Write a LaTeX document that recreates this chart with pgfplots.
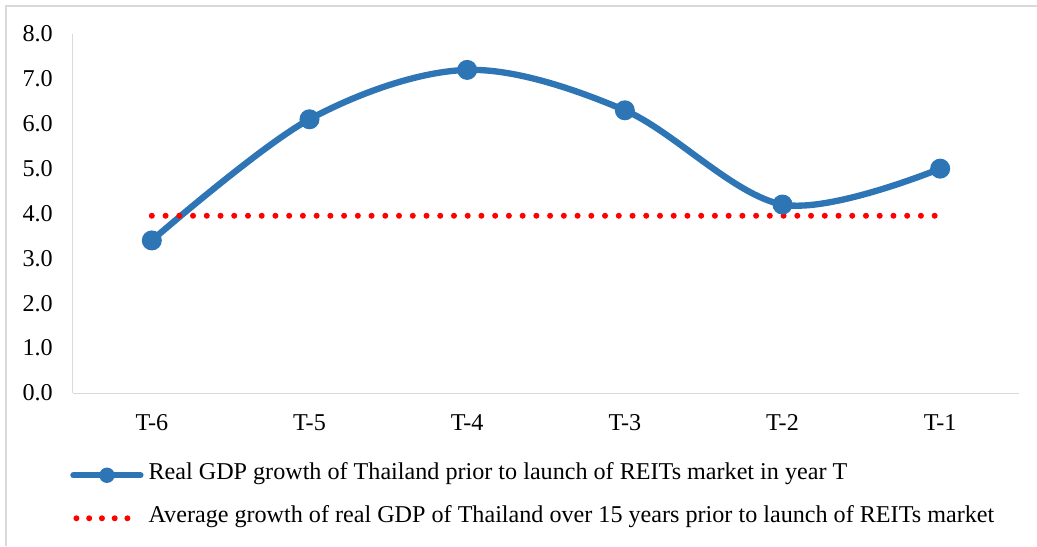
\documentclass[border=0pt]{standalone}
\usepackage{fontspec}
\setmainfont{Liberation Serif}
\usepackage{pgfplots}
\pgfplotsset{compat=1.18}
\definecolor{gdpblue}{HTML}{2E75B6}
\definecolor{axgray}{HTML}{D9D9D9}
\definecolor{avgred}{HTML}{FF0000}
\pgfplotsset{
  bluelegend/.style={legend image code/.code={
    \path[draw=none, fill=none] (0pt,-7.5pt) rectangle (54.75pt,7.5pt);
    \draw[##1, line cap=round, mark repeat=2, mark phase=2, mark size=5.25pt] plot coordinates {(2.25pt,0pt) (27.4pt,0pt) (52.5pt,0pt)};
  }},
  redlegend/.style={legend image code/.code={
    \path[draw=none, fill=none] (0pt,-7.5pt) rectangle (54.75pt,7.5pt);
    \draw[##1, dash pattern=on 0pt off 9.56pt] (4.5pt,0pt) -- (43pt,0pt);
  }},
}
\begin{document}
\begin{tikzpicture}[font=\fontsize{18.1}{21.5}\selectfont]
\useasboundingbox (-54.75pt,-114.75pt) rectangle (723pt,294.75pt);
\draw[axgray, line width=1.1pt] (-50.25pt,-114.75pt) -- (-50.25pt,290.25pt) -- (723pt,290.25pt);
\begin{axis}[
  at={(0,0)}, anchor=south west,
  scale only axis, width=709.5pt, height=269.25pt,
  xmin=-0.5, xmax=5.5, ymin=0, ymax=8,
  xtick={0,1,2,3,4,5}, xticklabels={T-6,T-5,T-4,T-3,T-2,T-1},
  ytick={0,1,2,3,4,5,6,7,8},
  axis x line*=bottom, axis y line*=left,
  axis line style={axgray, line width=0.75pt, -},
  major tick length=0pt,
  /pgf/number format/assume math mode=true,
  yticklabel style={/pgf/number format/fixed, /pgf/number format/fixed zerofill, /pgf/number format/precision=1, inner sep=0pt, xshift=-15pt, anchor=east},
  xticklabel style={inner sep=0pt, anchor=north, yshift=-16pt},
  legend style={at={(0,0)}, anchor=north west, xshift=-2.25pt, yshift=-54pt, draw=none, fill=none, inner sep=0pt, row sep=17.25pt, column sep=3.75pt,
    nodes={inner sep=0pt, text height=11pt, text depth=4pt, anchor=west}},
  legend cell align=left,
  clip=false,
]
\addplot[gdpblue, line width=4.75pt, smooth, tension=0.55, mark=*, mark size=7pt,
  mark options={solid, fill=gdpblue, draw=gdpblue, line width=1pt}, bluelegend] coordinates {
  (0,3.4) (1,6.1) (2,7.2) (3,6.3) (4,4.2) (5,5.0)
};
\addlegendentry{Real GDP growth of Thailand prior to launch of REITs market in year T}
\addplot[avgred, line width=4.5pt, line cap=round, dash pattern=on 0pt off 10.3pt, redlegend] coordinates {
  (0,3.95) (5,3.95)
};
\addlegendentry{Average growth of real GDP of Thailand over 15 years prior to launch of REITs market}
\end{axis}
\end{tikzpicture}
\end{document}
